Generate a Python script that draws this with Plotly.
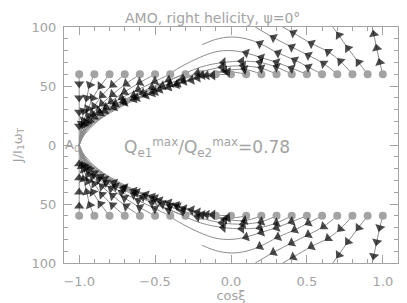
import plotly.graph_objects as go

# ---------------- data ----------------
START_X = [-1.0, -0.9, -0.8, -0.7, -0.6, -0.5, -0.4, -0.3, -0.2, -0.1, 0.0,
           0.1, 0.2, 0.3, 0.4, 0.5, 0.6, 0.7, 0.8, 0.9, 1.0]
START_J_UP = [60] * 21
START_J_DN = [-60] * 21

# upper half: arrowed part of each trajectory (first point = start dot)
UP_ARROW_X = [
    [-1.0, -1.0, -1.0, -1.0, -1.0],
    [-0.9, -0.93, -0.95, -0.97, -0.985],
    [-0.8, -0.86, -0.91, -0.94, -0.97],
    [-0.7, -0.78, -0.85, -0.9, -0.94, -0.97],
    [-0.6, -0.69, -0.78, -0.85, -0.91, -0.95],
    [-0.5, -0.6, -0.7, -0.79, -0.87, -0.93],
    [-0.4, -0.5, -0.61, -0.72, -0.82, -0.9],
    [-0.3, -0.41, -0.52, -0.64, -0.76, -0.86],
    [-0.2, -0.32, -0.45, -0.58, -0.71, -0.83],
    [-0.1, -0.22, -0.36, -0.5, -0.64, -0.77],
    [0.0, -0.12, -0.26, -0.41, -0.56, -0.7],
    [0.1, -0.02, -0.16, -0.31, -0.47, -0.62],
    [0.2, 0.09, -0.04, -0.19, -0.35, -0.52],
    [0.3, 0.2, 0.08, -0.06, -0.22, -0.4],
    [0.4, 0.3, 0.19, 0.07, -0.05],
    [0.5, 0.4, 0.3, 0.2, 0.1],
    [0.6, 0.51, 0.42, 0.31, 0.19],
    [0.7, 0.61, 0.51, 0.4, 0.28],
    [0.8, 0.72, 0.64, 0.53, 0.41],
    [0.9, 0.84, 0.77, 0.71],
    [1.0, 0.98, 0.96, 0.94],
]
UP_ARROW_J = [
    [60, 52, 40, 28, 16],
    [60, 51, 40, 29, 18],
    [60, 50, 40, 31, 21],
    [60, 51, 42, 33, 25, 17],
    [60, 52, 43, 35, 27, 19],
    [60, 53, 45, 37, 29, 21],
    [60, 54, 47, 40, 32, 24],
    [60, 55, 49, 42, 35, 27],
    [60, 56, 50, 44, 37, 29],
    [60, 57, 51, 45, 39, 32],
    [60, 59, 55, 49, 42, 36],
    [60, 62, 59, 54, 47, 40],
    [60, 64, 63, 59, 52, 44],
    [60, 65, 67, 66, 61, 52],
    [60, 66, 70, 71, 70],
    [60, 65, 70, 74, 78],
    [60, 66, 72, 78, 86],
    [60, 69, 76, 83, 91],
    [60, 71, 79, 86, 95],
    [60, 70, 82, 93],
    [60, 70, 82, 94],
]
# upper half: continuation of each trajectory without arrows
UP_TAIL_X = [
    [-1.0],
    [-1.0],
    [-0.99, -1.0],
    [-0.99, -1.0],
    [-0.985, -1.0],
    [-0.98, -1.0],
    [-0.97, -1.0],
    [-0.95, -1.0],
    [-0.93, -0.99],
    [-0.89, -0.97, -1.0],
    [-0.85, -0.95, -1.0],
    [-0.8, -0.93, -1.0],
    [-0.7, -0.88, -0.99],
    [-0.6, -0.8, -0.95],
    [-0.2, -0.4, -0.6, -0.8],
    [0.0, -0.1, -0.21, -0.32, -0.41],
    [0.1, 0.0, -0.1, -0.19],
    [0.16],
    [0.34],
    [0.67],
    [0.93],
]
UP_TAIL_J = [
    [0],
    [0],
    [10, 0],
    [8, 0],
    [9, 0],
    [10, 0],
    [12, 0],
    [15, 0],
    [18, 5],
    [22, 11, 0],
    [25, 14, 0],
    [28, 16, 0],
    [34, 20, 5],
    [41, 28, 13],
    [66, 55, 43, 30],
    [80, 79, 74, 67, 60],
    [90, 91.5, 89.5, 85],
    [100],
    [100],
    [100],
    [100],
]

# lower half
DN_ARROW_X = [row[:] for row in UP_ARROW_X]
DN_ARROW_J = [
    [-60, -52, -40, -28, -16],
    [-60, -51, -40, -29, -18],
    [-60, -50, -40, -31, -21],
    [-60, -51, -42, -33, -25, -17],
    [-60, -52, -43, -35, -27, -19],
    [-60, -53, -45, -37, -29, -21],
    [-60, -54, -47, -40, -32, -24],
    [-60, -55, -49, -42, -35, -27],
    [-60, -56, -50, -44, -37, -29],
    [-60, -57, -51, -45, -39, -32],
    [-60, -59, -55, -49, -42, -36],
    [-60, -62, -59, -54, -47, -40],
    [-60, -64, -63, -59, -52, -44],
    [-60, -65, -67, -66, -61, -52],
    [-60, -66, -70, -71, -70],
    [-60, -65, -70, -74, -78],
    [-60, -66, -72, -78, -86],
    [-60, -69, -76, -83, -91],
    [-60, -71, -79, -86, -95],
    [-60, -70, -82, -93],
    [-60, -70, -82, -94],
]
DN_TAIL_X = [row[:] for row in UP_TAIL_X]
DN_TAIL_J = [
    [0],
    [0],
    [-10, 0],
    [-8, 0],
    [-9, 0],
    [-10, 0],
    [-12, 0],
    [-15, 0],
    [-18, -5],
    [-22, -11, 0],
    [-25, -14, 0],
    [-28, -16, 0],
    [-34, -20, -5],
    [-41, -28, -13],
    [-66, -55, -43, -30],
    [-80, -79, -74, -67, -60],
    [-90, -91.5, -89.5, -85],
    [-100],
    [-100],
    [-100],
    [-100],
]

X_TICKS = [-1.0, -0.5, 0.0, 0.5, 1.0]
X_TICK_TEXT = ["\u22121.0", "\u22120.5", "0.0", "0.5", "1.0"]
Y_TICKS = [100, 50, 0, -50, -100]
Y_TICK_TEXT = ["100", "50", "0", "50", "100"]

TITLE = "AMO, right helicity, \u03c8=0\u00b0"
RATIO_TEXT = "Q<sub>e1</sub><sup>max</sup>/Q<sub>e2</sub><sup>max</sup>=0.78"

# ---------------- styles ----------------
GRAY = "#a3a3a3"
LINE_GRAY = "#8c8c8c"
FONT = "DejaVu Sans"

fig = go.Figure()

line_x, line_y = [], []
arr_x, arr_y, arr_s = [], [], []
for ax_list, aj_list, tx_list, tj_list in (
    (UP_ARROW_X, UP_ARROW_J, UP_TAIL_X, UP_TAIL_J),
    (DN_ARROW_X, DN_ARROW_J, DN_TAIL_X, DN_TAIL_J),
):
    for ax, aj, tx, tj in zip(ax_list, aj_list, tx_list, tj_list):
        line_x += ax + tx + [None]
        line_y += aj + tj + [None]
        arr_x += ax + [None]
        arr_y += aj + [None]
        arr_s += [0] + [9] * (len(ax) - 1) + [0]

fig.add_trace(go.Scatter(
    x=line_x, y=line_y, mode="lines",
    line=dict(color=LINE_GRAY, width=1, shape="spline", smoothing=1.0),
    hoverinfo="skip", showlegend=False))

fig.add_trace(go.Scatter(
    x=START_X + START_X, y=START_J_UP + START_J_DN, mode="markers",
    marker=dict(symbol="circle", size=8, color=GRAY),
    hoverinfo="skip", showlegend=False))

fig.add_trace(go.Scatter(
    x=arr_x, y=arr_y, mode="markers",
    marker=dict(symbol="triangle-up", size=arr_s, color="black",
                angleref="previous", line=dict(width=0)),
    hoverinfo="skip", showlegend=False))

fig.add_annotation(x=-1.045, y=0, xref="x", yref="y", text="A<sub>0</sub>",
                   showarrow=False, font=dict(family=FONT, size=13, color=GRAY))
fig.add_annotation(x=-0.72, y=-2, xref="x", yref="y", text=RATIO_TEXT,
                   xanchor="left", showarrow=False,
                   font=dict(family=FONT, size=17, color=GRAY))
fig.add_annotation(x=0.446, y=1.0, xref="paper", yref="paper",
                   yanchor="top", yshift=19,
                   text=TITLE, showarrow=False,
                   font=dict(family=FONT, size=14, color=GRAY))

axis_common = dict(
    showgrid=False, zeroline=False, showline=True, linecolor=GRAY, linewidth=1,
    mirror="ticks", ticks="inside", tickcolor=GRAY, ticklen=8, tickwidth=1,
    tickfont=dict(family=FONT, size=13, color=GRAY), automargin=False,
)
fig.update_xaxes(range=[-1.1, 1.1], tickvals=X_TICKS, ticktext=X_TICK_TEXT,
                 minor=dict(dtick=0.1, tick0=0, ticks="inside", ticklen=4,
                            tickcolor=GRAY),
                 title=dict(text="cos\u03be", standoff=2,
                            font=dict(family=FONT, size=13, color=GRAY)),
                 ticklabelstandoff=6,
                 **axis_common)
fig.update_yaxes(range=[-100, 100], tickvals=Y_TICKS, ticktext=Y_TICK_TEXT,
                 minor=dict(dtick=10, tick0=0, ticks="inside", ticklen=4,
                            tickcolor=GRAY),
                 title=dict(text="J/I<sub>1</sub>\u03c9<sub>T</sub>", standoff=6,
                            font=dict(family=FONT, size=13, color=GRAY)),
                 ticklabelstandoff=4,
                 **axis_common)

# the page body adds an 8 px offset; size and margins compensate for it
fig.update_layout(
    width=399, height=295,
    margin=dict(l=56, r=9, t=19, b=40, autoexpand=False),
    paper_bgcolor="white", plot_bgcolor="white",
    showlegend=False,
)

fig.write_html("out.html")
